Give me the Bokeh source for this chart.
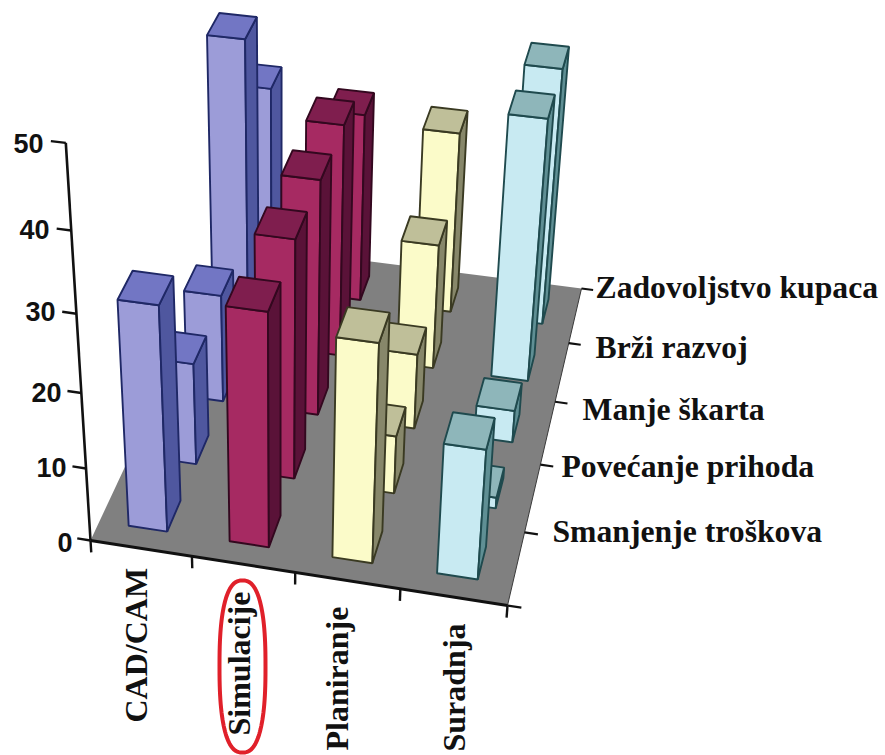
from math import pi
import numpy as np
from bokeh.plotting import figure
from bokeh.models import Range1d
from bokeh.core.properties import value
from bokeh.embed import file_html
from bokeh.resources import INLINE

# ---- data -----------------------------------------------------------------
categories = ["CAD/CAM", "Simulacije", "Planiranje", "Suradnja"]
depths = ["Smanjenje troškova", "Povećanje prihoda", "Manje škarta", "Brži razvoj", "Zadovoljstvo kupaca"]
cad_cam = [30, 14, 15, 41.5, 28.6]
simulacije = [31, 32, 32, 32, 26.5]
planiranje = [29, 8, 10.5, 17.5, 25.5]
suradnja = [17.5, 1.5, 4.5, 35.8, 35.5]
z_ticks = [0, 10, 20, 30, 40, 50]

series = [cad_cam, simulacije, planiranje, suradnja]
front_colors = ["#9C9CD8", "#A62A62", "#FBFBC9", "#C8EAF2"]
top_colors = ["#7276C4", "#7F1E4E", "#BFBF99", "#8EB6BA"]
side_colors = ["#4F579F", "#5A1238", "#87876A", "#5F8F94"]
edge_colors = ["#1F2866", "#33081F", "#3A3A22", "#1F4A4E"]

# page-pixel frame: data units are picture pixels
OX, OY = 0, 0
W, H = 885, 755

# projective camera: floor corners and vertical vanishing point
x0, y0 = 90, 540
x1, y1 = 507, 605
x2, y2 = 581, 288
x3, y3 = 229, 243
VX, VY = 280, 3600
ZS = -0.0023

dx1, dx2, sx = x1 - x2, x3 - x2, x0 - x1 + x2 - x3
dy1, dy2, sy = y1 - y2, y3 - y2, y0 - y1 + y2 - y3
den = dx1 * dy2 - dx2 * dy1
g = (sx * dy2 - dx2 * sy) / den
h = (dx1 * sy - sx * dy1) / den


def P(u, v, z=0.0):
    """Project floor position (u, v) and value z to picture coordinates."""
    xn = (x1 - x0 + g * x1) * u + (x3 - x0 + h * x3) * v + x0
    yn = (y1 - y0 + g * y1) * u + (y3 - y0 + h * y3) * v + y0
    wn = g * u + h * v + 1
    a = ZS * z
    return (xn + a * VX) / (wn + a), (yn + a * VY) / (wn + a)


p = figure(width=W, height=H, x_range=Range1d(OX, OX + W), y_range=Range1d(OY + H, OY),
           output_backend="svg", toolbar_location=None, min_border=0,
           background_fill_color="white", border_fill_color="white", outline_line_color=None)
p.axis.visible = False
p.grid.visible = False

# floor
corners = [P(0, 0), P(1, 0), P(1, 1), P(0, 1)]
p.patch([c[0] for c in corners], [c[1] for c in corners], fill_color="#808080", line_color=None)
re = [P(1, 0), P(1, 1)]
p.line([c[0] for c in re], [c[1] for c in re], line_color="#3A3A3A", line_width=1)

# bars, far to near, left to right
bw, bd = 0.048, 0.045
xs, ys, fills, lines = [], [], [], []
for j in reversed(range(len(depths))):
    vc = (j + 0.5) / len(depths)
    for i, vals in enumerate(series):
        uc = (i + 0.5) / len(categories) - 0.004
        z = vals[j]
        ul, ur, vf, vb = uc - bw, uc + bw, vc - bd, vc + bd
        faces = [
            ([(ul, vf, 0), (ur, vf, 0), (ur, vf, z), (ul, vf, z)], front_colors[i]),
            ([(ur, vf, 0), (ur, vb, 0), (ur, vb, z), (ur, vf, z)], side_colors[i]),
            ([(ul, vf, z), (ur, vf, z), (ur, vb, z), (ul, vb, z)], top_colors[i]),
        ]
        for pts, col in faces:
            q = [P(*t) for t in pts]
            xs.append([c[0] for c in q])
            ys.append([c[1] for c in q])
            fills.append(col)
            lines.append(edge_colors[i])
p.patches(xs, ys, fill_color=fills, line_color=lines, line_width=1.9)


def seg(a, b, w=2.4):
    p.line([a[0], b[0]], [a[1], b[1]], line_color="#111111", line_width=w)


# axes
seg(P(0, 0, 0), P(0, 0, z_ticks[-1]), 2.6)
seg(P(0, 0), P(1, 0), 3)
for t in z_ticks:
    seg(P(-0.033, 0, t), P(0, 0, t), 2.4)
for i in range(len(categories) + 1):
    seg(P(i / len(categories), 0, 0), P(i / len(categories), 0, -1.7), 2.4)
for j in range(1, len(depths) + 1):
    seg(P(1, j / len(depths)), P(1.032, j / len(depths)), 2.2)
seg(P(1, 0), P(1.032, 0), 2.2)

# value labels
tick_x = [72, 66, 61, 55, 49, 43]
tick_y = [542, 467, 392, 311, 229, 143]
p.text(tick_x, tick_y, text=[str(t) for t in z_ticks], text_font=value("Liberation Sans"),
       text_font_style="bold", text_font_size="27px", text_align="right",
       text_baseline="middle", text_color="#111111")

# depth labels
depth_x = [552, 561, 582, 595, 595]
depth_y = [531, 466, 409, 347, 287]
p.text(depth_x, depth_y, text=depths, text_font=value("Liberation Serif"),
       text_font_style="bold", text_font_size="31.7px", text_align="left",
       text_baseline="middle", text_color="#111111")

# category labels
cat_x = [135, 238, 336, 453]
cat_y = [722, 735, 750, 751]
p.text(cat_x, cat_y, text=categories, angle=pi / 2, text_font=value("Liberation Serif"),
       text_font_style="bold", text_font_size="32px", text_align="left",
       text_baseline="alphabetic", text_color="#111111")

# highlight round "Simulacije" (a slightly boxy oval)
t = np.linspace(0, 2 * np.pi, 121)
n = 2.5
ring_x = 242 + 23 * np.sign(np.cos(t)) * np.abs(np.cos(t)) ** (2 / n)
ring_y = 666 + 86 * np.sign(np.sin(t)) * np.abs(np.sin(t)) ** (2 / n)
p.line(ring_x, ring_y, line_color="#E0202A", line_width=4)

open("out.html", "w").write(file_html(p, INLINE))
